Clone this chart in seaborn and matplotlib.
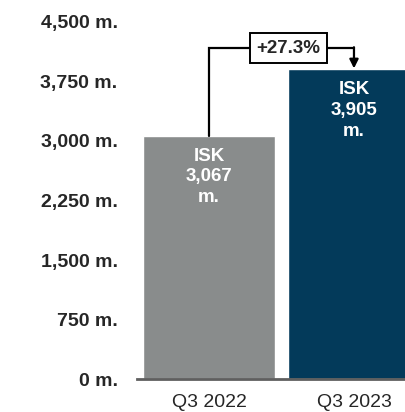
import matplotlib
matplotlib.use("Agg")
import matplotlib.pyplot as plt
import seaborn as sns
import pandas as pd

categories = ["Q3 2022", "Q3 2023"]
values = [3067, 3905]
bar_labels = ["ISK\n3,067\nm.", "ISK\n3,905\nm."]
colors = ["#898c8c", "#033a5a"]
yticks = [0, 750, 1500, 2250, 3000, 3750, 4500]
ytick_labels = ["0 m.", "750 m.", "1,500 m.", "2,250 m.", "3,000 m.", "3,750 m.", "4,500 m."]
growth_label = "+27.3%"

sns.set_style("white")
plt.rcParams["font.family"] = ["Liberation Sans", "DejaVu Sans"]

fig = plt.figure(figsize=(4.05, 4.12), dpi=100)
W, H = 405, 412
ax = fig.add_axes([137 / W, (H - 379) / H, (405 - 137) / W, 379 / H])

df = pd.DataFrame({"cat": categories, "val": values})
sns.barplot(data=df, x="cat", y="val", hue="cat", palette=colors, width=0.91,
            legend=False, ax=ax, saturation=1)

px_per_unit = 357 / 4500
ax.set_ylim(0, 379 / px_per_unit)
ax.set_xlim(-0.497, 1.352)

ax.set_yticks(yticks)
ax.set_yticklabels(ytick_labels, fontsize=14, fontweight="bold")
ax.tick_params(axis="y", length=0, pad=14)
ax.tick_params(axis="x", length=0, pad=11, labelsize=14)
ax.set_xlabel("")
ax.set_ylabel("")
for s in ["top", "right", "left"]:
    ax.spines[s].set_visible(False)
ax.spines["bottom"].set_color("#5f5f5f")
ax.spines["bottom"].set_linewidth(2)

for i, (v, lab) in enumerate(zip(values, bar_labels)):
    ax.text(i, v - 150, lab, ha="center", va="top", color="white",
            fontsize=13.5, fontweight="bold", linespacing=1.3)

# growth annotation
top_y = 4172
ax.plot([0, 0, 1, 1], [values[0], top_y, top_y, top_y], color="black", lw=1.6,
        solid_joinstyle="miter")
ax.annotate("", xy=(1, values[1] + 10), xytext=(1, top_y + 10),
            arrowprops=dict(arrowstyle="-|>", color="black", lw=1.6,
                            mutation_scale=13, shrinkA=0, shrinkB=0))
ax.text(0.548, top_y, growth_label, ha="center", va="center", fontsize=13.5,
        fontweight="bold",
        bbox=dict(boxstyle="square,pad=0.33", fc="white", ec="black", lw=1.4))

fig.savefig("out.png", dpi=100)
